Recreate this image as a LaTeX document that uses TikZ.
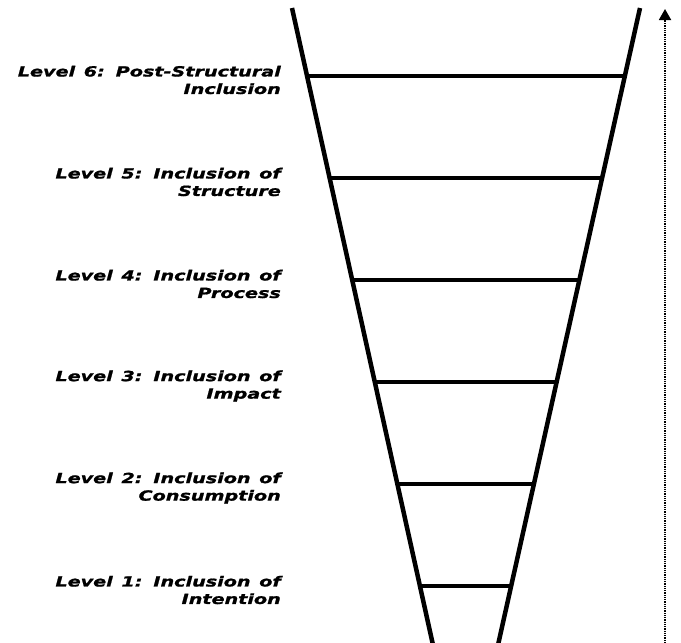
\documentclass[tikz,border=0pt]{standalone}
\usepackage{fontspec}
\setmainfont{DejaVu Sans}
\newfontfamily\lblfont[FakeStretch=1.37,WordSpace=1.3,FakeBold=1.2]{DejaVu Sans}
\usetikzlibrary{arrows.meta}
\begin{document}
\begin{tikzpicture}[x=1pt,y=-1pt,
  side/.style={line width=4.5pt},
  rung/.style={line width=3.5pt},
  lbl/.style={align=right,anchor=east,font=\lblfont\fontsize{14}{17.5}\selectfont\bfseries\itshape,inner sep=0pt},
  axis/.style={line width=1.8pt,dash pattern=on 1pt off 0.8pt,-{Triangle[width=12pt,length=11pt]}}]
\useasboundingbox (0,0) rectangle (681,643);
\coordinate (lt) at (292,8);
\coordinate (lb) at (433,645);
\coordinate (rt) at (640,8);
\coordinate (rb) at (498,645);
\draw[side] (lt) -- (lb);
\draw[side] (rt) -- (rb);
\foreach \n/\y in {6/76,5/178,4/280,3/382,2/484,1/586}{
  \pgfmathsetmacro{\xl}{292+0.2214*(\y-8)}
  \pgfmathsetmacro{\xr}{640-0.2230*(\y-8)}
  \coordinate (a\n) at (\xl,\y);
  \coordinate (b\n) at (\xr,\y);
  \draw[rung] (a\n) -- (b\n);
}
\node[lbl] (t6) at (281,80) {Level 6: Post-Structural\\Inclusion};
\node[lbl] (t5) at (281,182) {Level 5: Inclusion of\\Structure};
\node[lbl] (t4) at (281,284) {Level 4: Inclusion of\\Process};
\node[lbl] (t3) at (281,386) {Level 3: Inclusion of\\Impact};
\node[lbl] (t2) at (281,488) {Level 2: Inclusion of\\Consumption};
\node[lbl] (t1) at (281,590) {Level 1: Inclusion of\\Intention};
\coordinate (ab) at (665,643);
\coordinate (at) at (665,9);
\draw[axis] (ab) -- (at);
\end{tikzpicture}
\end{document}
